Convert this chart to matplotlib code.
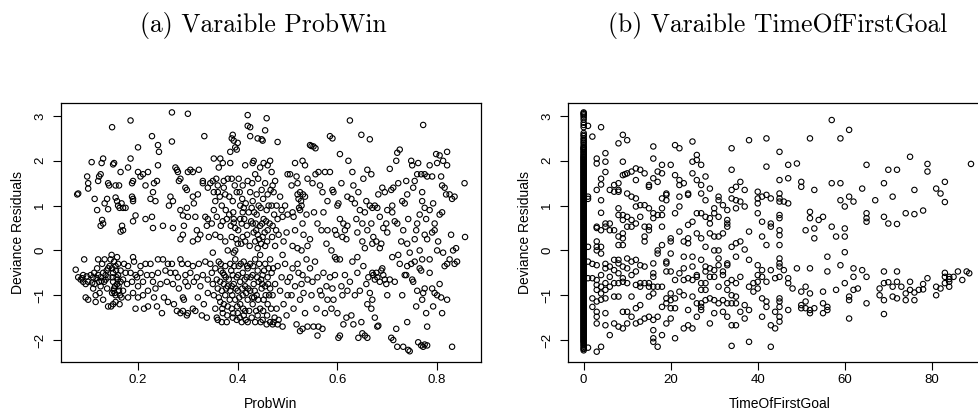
import matplotlib
matplotlib.use("Agg")
import matplotlib.pyplot as plt
import numpy as np

# ---------------- data: panel (a) ProbWin vs deviance residuals ----------------
# upper band (positive residuals), (ProbWin, residual)
probwin_upper = [
    (0.078,1.25),(0.08,1.27),(0.098,1.65),(0.1,1.38),(0.1,1.5),
    (0.107,1.97),(0.113,1.15),(0.118,0.9),(0.12,1.55),(0.122,1.65),(0.125,1.7),(0.127,1.95),(0.13,2.05),
    (0.125,0.55),(0.128,0.68),(0.13,0.6),(0.133,1.05),(0.138,1.15),(0.14,0.92),(0.14,1.5),(0.142,1.45),
    (0.148,2.75),(0.15,1.92),(0.152,1.95),(0.155,1.18),(0.158,1.1),(0.16,1.0),(0.162,1.45),(0.155,1.45),
    (0.165,1.75),(0.163,0.95),(0.167,1.05),(0.17,0.95),(0.165,0.42),(0.168,0.55),(0.17,0.45),(0.175,0.95),
    (0.18,1.85),(0.185,2.05),
    (0.185,2.9),(0.188,1.5),(0.19,1.55),(0.19,1.15),(0.19,1.1),(0.188,1.2),(0.19,0.65),(0.195,0.78),
    (0.2,2.3),(0.2,1.75),(0.205,1.65),(0.21,1.7),(0.215,1.45),(0.22,1.75),(0.215,0.7),
    (0.228,2.55),(0.23,1.3),(0.232,1.5),(0.225,1.15),(0.228,0.75),(0.23,0.5),(0.235,1.1),(0.24,2.35),
    (0.242,2.2),(0.24,1.9),(0.238,1.55),(0.25,0.55),
    (0.268,3.08),(0.268,2.43),(0.262,1.0),(0.265,1.2),(0.27,1.1),(0.275,1.85),(0.278,1.8),(0.28,1.75),
    (0.282,1.55),(0.285,1.6),(0.285,0.9),(0.29,0.78),(0.29,0.35),(0.285,0.25),(0.292,0.55),(0.295,1.4),
    (0.298,1.35),(0.3,3.05),(0.3,1.75),(0.3,0.75),(0.298,0.95),(0.27,0.5),
    (0.305,1.8),(0.31,1.75),(0.31,1.2),(0.312,1.05),(0.315,0.75),(0.318,0.45),(0.32,1.25),(0.322,1.8),
    (0.325,0.35),(0.33,1.55),(0.33,1.5),(0.333,2.55),(0.335,0.75),(0.338,0.55),(0.34,1.4),(0.34,0.7),
    (0.342,0.3),(0.31,0.2),(0.32,0.25),
    (0.345,1.5),(0.35,1.55),(0.352,2.05),(0.355,1.1),(0.358,0.75),(0.36,1.45),(0.362,1.85),(0.365,2.05),
    (0.365,0.3),(0.37,1.95),(0.37,0.65),(0.372,1.55),(0.375,0.2),(0.378,0.7),(0.38,1.6),(0.38,0.0),
    (0.348,0.6),(0.355,0.35),(0.36,1.3),(0.375,1.25),(0.368,1.0),(0.352,0.9),
    (0.385,2.2),(0.388,2.5),(0.39,2.58),(0.392,2.45),(0.395,2.3),(0.398,2.25),(0.4,2.4),(0.385,1.95),
    (0.388,1.6),(0.39,1.1),(0.392,0.7),(0.395,0.5),(0.398,1.3),(0.4,0.15),(0.402,1.6),(0.405,1.0),
    (0.408,0.6),(0.41,1.45),(0.41,0.3),(0.412,0.95),(0.415,1.9),(0.415,0.2),(0.418,0.55),(0.42,1.55),
    (0.42,3.02),(0.42,2.78),(0.388,0.3),(0.383,0.8),(0.395,0.0),(0.405,0.7),(0.41,0.85),(0.392,0.62),
    (0.425,2.75),(0.425,2.55),(0.43,1.95),(0.432,2.0),(0.435,1.7),(0.438,1.25),(0.44,2.5),(0.445,1.85),
    (0.448,2.48),(0.45,2.45),(0.452,1.95),(0.455,2.68),(0.458,2.95),(0.46,1.9),(0.425,1.3),(0.428,0.95),
    (0.43,0.6),(0.432,0.4),(0.435,0.2),(0.438,0.8),(0.44,0.05),(0.442,1.0),(0.445,0.55),(0.448,1.35),
    (0.45,0.3),(0.452,0.7),(0.455,1.5),(0.455,0.1),(0.458,0.9),(0.46,0.45),(0.46,1.25),(0.43,1.1),
    (0.44,0.35),(0.436,0.6),(0.447,0.15),
    (0.465,2.0),(0.468,1.75),(0.47,1.45),(0.472,1.3),(0.475,1.55),(0.478,1.0),(0.48,2.42),(0.48,0.7),
    (0.482,0.35),(0.485,1.2),(0.488,0.9),(0.49,0.75),(0.492,0.2),(0.495,1.0),(0.498,0.4),(0.5,1.7),
    (0.5,0.8),(0.47,0.55),(0.475,0.1),(0.468,1.0),
    (0.505,1.7),(0.508,1.45),(0.51,0.85),(0.512,0.75),(0.515,1.95),(0.518,1.65),(0.52,1.5),(0.52,1.25),
    (0.522,1.15),(0.525,1.3),(0.525,0.9),(0.528,1.0),(0.53,2.0),(0.53,0.6),(0.532,0.35),(0.535,1.9),
    (0.535,1.2),(0.538,0.8),(0.54,1.6),(0.54,0.1),(0.51,0.1),(0.515,0.45),(0.52,0.05),(0.528,0.0),
    (0.545,2.35),(0.548,2.33),(0.552,2.32),(0.556,2.28),(0.55,1.5),(0.553,0.85),(0.556,1.7),(0.56,0.6),
    (0.562,1.75),(0.565,1.45),(0.568,0.45),(0.57,1.3),(0.572,0.85),(0.575,1.75),(0.578,0.15),(0.58,1.1),
    (0.58,0.45),(0.545,0.25),
    (0.585,2.55),(0.59,2.5),(0.585,1.75),(0.59,1.35),(0.592,1.3),(0.595,0.45),(0.598,0.35),(0.6,1.0),
    (0.602,1.05),(0.605,0.7),(0.605,2.15),(0.608,1.5),(0.61,0.3),(0.612,0.6),(0.615,0.45),(0.618,0.25),
    (0.62,1.2),(0.62,0.55),(0.588,0.0),(0.595,-0.15),
    (0.625,2.9),(0.622,2.0),(0.628,1.15),(0.63,1.75),(0.632,1.45),(0.635,1.05),(0.638,0.7),(0.64,0.4),
    (0.642,1.3),(0.645,0.9),(0.648,2.58),(0.65,0.6),(0.652,1.6),(0.655,0.85),(0.658,1.1),(0.66,1.8),
    (0.66,0.45),(0.655,0.05),(0.64,-0.15),(0.65,0.2),
    (0.665,2.48),(0.665,1.0),(0.668,0.6),(0.67,0.95),(0.672,0.3),(0.675,1.0),(0.678,0.2),(0.68,0.95),
    (0.682,1.25),(0.685,0.75),(0.688,0.15),(0.69,1.4),(0.692,0.5),(0.695,1.3),(0.698,0.6),(0.7,0.9),
    (0.7,0.4),(0.67,0.15),(0.685,0.05),(0.668,1.7),
    (0.705,1.82),(0.708,1.35),(0.71,0.85),(0.712,1.4),(0.715,0.65),(0.718,2.0),(0.72,2.18),(0.722,1.5),
    (0.725,2.25),(0.73,1.1),(0.732,0.45),(0.735,1.05),(0.738,1.55),(0.74,0.15),(0.742,0.7),(0.71,1.0),
    (0.72,0.6),(0.74,1.25),(0.728,0.2),
    (0.748,2.0),(0.75,1.9),(0.752,1.4),(0.755,1.55),(0.758,0.45),(0.76,1.7),(0.762,1.95),(0.765,0.8),
    (0.768,1.7),(0.77,1.1),(0.772,2.8),(0.775,1.7),(0.775,0.35),(0.778,0.7),(0.78,1.65),(0.78,0.25),
    (0.755,0.25),(0.765,0.0),(0.76,0.6),(0.77,1.3),(0.775,0.95),
    (0.785,1.9),(0.79,1.65),(0.792,1.05),(0.795,0.6),(0.798,2.15),(0.8,1.95),(0.802,0.2),(0.805,2.12),
    (0.808,1.65),(0.81,1.45),(0.81,0.85),(0.812,2.0),(0.815,1.4),(0.818,1.25),(0.82,2.2),(0.82,1.9),
    (0.795,0.45),(0.8,0.0),(0.785,0.9),(0.79,0.4),(0.805,0.8),(0.812,-0.05),
    (0.825,1.25),(0.828,0.35),(0.83,1.15),(0.835,1.2),(0.838,0.05),(0.84,-0.25),(0.855,1.5),(0.856,0.3),
    (0.832,0.0),
]
# extra points in the crowded middle of the upper band
probwin_upper_dense = [
    (0.372,1.4),(0.376,0.9),(0.383,1.2),(0.386,0.55),(0.391,0.85),(0.394,1.45),(0.397,0.25),(0.401,0.45),
    (0.404,1.3),(0.407,0.15),(0.409,1.15),(0.413,0.7),(0.416,1.05),(0.419,0.35),(0.422,0.85),(0.424,0.1),
    (0.427,0.65),(0.429,1.5),(0.433,0.85),(0.437,0.45),(0.441,1.6),(0.443,0.25),(0.446,0.95),(0.449,0.6),
    (0.451,1.15),(0.454,0.4),(0.457,0.65),(0.459,0.2),(0.462,1.0),(0.464,0.6),(0.466,1.35),(0.469,0.3),
    (0.473,0.8),(0.477,0.45),(0.352,1.3),(0.357,1.6),(0.366,0.55),(0.364,1.2),(0.527,1.1),(0.523,0.95),
    (0.531,1.25),
]
# lower band (negative residuals), (ProbWin, residual)
probwin_lower = [
    (0.075,-0.43),(0.08,-0.6),(0.085,-0.65),(0.09,-0.7),(0.09,-0.55),(0.095,-0.75),(0.092,-0.2),
    (0.095,-1.05),(0.1,-1.1),(0.1,-0.7),(0.088,-0.62),(0.097,-0.58),
    (0.105,-0.55),(0.11,-0.6),(0.11,-0.85),(0.113,-0.75),(0.115,-1.0),(0.115,-1.15),(0.118,-0.4),
    (0.12,-0.2),(0.12,-0.55),(0.122,-0.7),(0.125,-0.8),(0.125,-0.6),(0.128,-0.3),(0.13,-0.5),(0.13,-1.1),
    (0.133,-0.2),(0.135,-0.65),(0.135,-0.55),(0.138,-0.85),(0.14,-1.25),(0.14,-0.4),(0.14,-0.6),
    (0.143,-0.35),(0.108,-0.72),(0.117,-0.62),(0.127,-0.68),
    (0.145,-0.2),(0.147,-0.1),(0.148,-0.4),(0.15,-0.5),(0.15,-0.7),(0.152,-0.85),(0.153,-0.95),
    (0.155,-1.0),(0.155,-1.15),(0.157,-0.6),(0.158,-0.75),(0.16,-0.3),(0.16,-0.55),(0.162,-0.9),
    (0.163,-1.2),(0.165,-0.7),(0.165,-0.45),(0.167,-1.05),(0.17,-0.65),(0.17,-0.9),(0.172,-0.3),
    (0.175,-0.5),(0.178,-0.75),(0.18,-1.05),(0.18,-0.35),(0.148,-0.95),(0.146,-1.25),(0.15,-1.2),
    (0.152,-0.25),(0.155,-0.35),(0.158,-0.15),(0.154,-0.8),(0.159,-0.65),
    (0.185,-0.5),(0.19,-0.15),(0.19,-0.95),(0.192,-0.25),(0.195,-0.55),(0.195,-1.3),(0.2,-0.8),
    (0.2,-1.05),(0.205,-0.5),(0.205,-0.35),(0.21,-0.7),(0.21,-1.0),(0.212,-1.3),(0.215,-0.3),
    (0.218,-0.55),(0.22,-0.9),(0.22,-1.25),(0.188,-0.7),(0.198,-0.6),
    (0.225,-0.3),(0.228,-0.55),(0.23,-0.7),(0.232,-1.05),(0.235,-0.85),(0.238,-1.25),(0.24,-0.2),
    (0.24,-0.5),(0.245,-0.75),(0.248,-1.4),(0.25,-0.2),(0.252,-1.05),(0.255,-0.45),(0.258,-0.7),
    (0.26,-1.15),(0.26,-0.3),
    (0.265,-0.5),(0.268,-0.3),(0.27,-0.75),(0.272,-1.2),(0.275,-0.5),(0.278,-1.35),(0.28,-0.6),
    (0.282,-0.85),(0.285,-1.4),(0.288,-0.3),(0.29,-1.05),(0.292,-1.1),(0.295,-0.55),(0.295,-0.7),
    (0.298,-1.45),(0.3,-0.3),(0.3,-0.8),(0.285,-0.2),
    (0.305,-0.5),(0.31,-0.35),(0.312,-0.7),(0.315,-1.35),(0.318,-0.6),(0.32,-1.05),(0.322,-0.3),
    (0.325,-0.8),(0.328,-1.45),(0.33,-0.55),(0.332,-1.2),(0.335,-0.25),(0.338,-1.5),(0.34,-0.65),
    (0.34,-0.95),(0.31,-1.3),
    (0.345,-0.3),(0.348,-0.5),(0.35,-0.75),(0.352,-1.0),(0.355,-0.4),(0.355,-1.3),(0.358,-0.65),
    (0.36,-0.85),(0.36,-1.55),(0.362,-0.25),(0.365,-0.7),(0.365,-1.15),(0.368,-0.9),(0.37,-0.5),
    (0.37,-1.4),(0.372,-0.75),(0.375,-1.0),(0.375,-0.35),(0.378,-1.6),(0.38,-0.8),(0.38,-1.25),
    (0.35,-0.05),(0.358,-1.5),(0.368,-1.6),(0.372,-1.2),(0.376,-0.6),(0.362,-1.05),(0.366,-0.45),
    (0.385,-0.3),(0.385,-0.9),(0.388,-1.3),(0.39,-0.55),(0.39,-1.5),(0.392,-0.75),(0.395,-1.1),
    (0.395,-0.2),(0.398,-0.6),(0.4,-1.4),(0.4,-0.9),(0.402,-0.35),(0.405,-1.2),(0.405,-0.7),
    (0.408,-1.6),(0.41,-0.5),(0.41,-1.0),(0.412,-0.25),(0.415,-0.8),(0.415,-1.35),(0.418,-0.6),
    (0.42,-1.1),(0.42,-0.4),(0.42,-1.6),(0.398,-1.55),(0.392,-0.05),(0.412,-1.45),(0.388,-0.8),
    (0.403,-1.05),(0.417,-0.95),
    (0.425,-0.3),(0.425,-0.9),(0.428,-1.5),(0.43,-0.55),(0.43,-1.2),(0.432,-0.75),(0.435,-1.6),
    (0.435,-0.2),(0.438,-1.0),(0.44,-0.45),(0.44,-1.45),(0.442,-0.7),(0.445,-1.3),(0.445,-0.1),
    (0.448,-0.85),(0.45,-0.55),(0.45,-1.55),(0.452,-1.1),(0.455,-0.3),(0.455,-0.8),(0.458,-1.65),
    (0.46,-0.6),(0.46,-1.2),(0.462,-0.4),(0.465,-1.6),(0.465,-0.85),(0.433,-1.05),(0.447,-0.65),
    (0.465,-0.2),(0.468,-0.5),(0.47,-1.0),(0.472,-1.6),(0.475,-0.75),(0.478,-1.3),(0.48,-0.35),
    (0.482,-1.55),(0.485,-0.9),(0.488,-0.6),(0.49,-1.7),(0.492,-1.2),(0.495,-0.3),(0.498,-1.45),
    (0.5,-0.7),(0.5,-1.0),(0.49,-0.1),
    (0.505,-0.6),(0.508,-1.0),(0.51,-0.4),(0.512,-1.3),(0.515,-0.8),(0.518,-1.65),(0.52,-0.3),
    (0.522,-0.5),(0.525,-1.1),(0.528,-0.75),(0.53,-1.75),(0.53,-0.55),(0.532,-0.95),(0.535,-1.4),
    (0.538,-0.2),(0.54,-0.65),(0.54,-1.7),(0.525,-1.8),
    (0.545,-0.4),(0.548,-1.0),(0.55,-0.7),(0.552,-1.7),(0.555,-0.25),(0.558,-1.3),(0.56,-0.6),
    (0.562,-1.7),(0.565,-0.9),(0.568,-1.0),(0.57,-1.75),(0.572,-0.5),(0.575,-1.4),(0.578,-0.8),
    (0.58,-1.1),(0.56,-1.9),
    (0.585,-0.6),(0.588,-1.3),(0.59,-0.85),(0.592,-1.1),(0.595,-0.55),(0.598,-0.2),(0.6,-1.4),
    (0.602,-1.95),(0.605,-0.2),(0.605,-1.9),(0.608,-0.8),(0.61,-1.0),(0.612,-1.65),(0.615,-0.55),
    (0.618,-1.5),(0.62,-0.9),
    (0.625,-0.7),(0.628,-1.45),(0.63,-0.25),(0.632,-1.65),(0.635,-1.0),(0.64,-0.5),(0.642,-1.95),
    (0.645,-0.9),(0.648,-1.6),(0.65,-1.85),(0.652,-0.35),(0.655,-1.9),(0.658,-0.75),(0.66,-1.2),
    (0.66,-1.95),(0.662,-0.6),
    (0.665,-0.95),(0.668,-1.3),(0.67,-0.5),(0.672,-0.55),(0.675,-0.65),(0.678,-0.5),(0.68,-1.7),
    (0.68,-0.6),(0.682,-1.68),(0.685,-0.7),(0.688,-0.45),(0.69,-0.4),(0.692,-0.55),(0.695,-0.65),
    (0.698,-0.75),(0.7,-1.0),(0.67,-1.1),(0.675,-1.5),
    (0.705,-0.65),(0.708,-1.95),(0.71,-0.15),(0.712,-2.0),(0.715,-0.7),(0.718,-1.75),(0.72,-2.15),
    (0.722,-0.1),(0.725,-0.3),(0.73,-1.0),(0.732,-2.15),(0.735,-0.55),(0.738,-0.55),(0.74,-1.6),
    (0.742,-2.22),(0.745,-2.25),(0.745,-0.05),(0.74,-0.35),
    (0.748,-0.3),(0.75,-0.65),(0.752,-0.7),(0.755,-0.25),(0.758,-1.25),(0.76,-0.9),(0.762,-2.05),
    (0.765,-0.4),(0.768,-0.45),(0.77,-1.1),(0.772,-2.15),(0.775,-0.85),(0.775,-2.1),(0.778,-1.4),
    (0.78,-1.7),(0.78,-2.12),(0.772,-0.95),(0.77,-0.2),(0.768,-2.12),
    (0.785,-0.2),(0.79,-0.85),(0.792,-1.25),(0.795,-0.95),(0.8,-1.0),(0.805,-0.75),(0.808,-1.05),
    (0.81,-1.4),(0.815,-0.35),(0.82,-0.3),(0.82,-1.1),(0.785,-0.5),
    (0.83,-2.15),(0.825,-0.2),(0.835,-0.3),
]
# extra points in the crowded parts of the lower band
probwin_lower_dense = [
    (0.366,-0.3),(0.369,-1.3),(0.373,-0.55),(0.377,-0.85),(0.379,-1.45),(0.382,-0.65),(0.384,-1.1),
    (0.387,-0.45),(0.389,-1.0),(0.391,-1.4),(0.393,-0.35),(0.396,-0.85),(0.399,-1.25),(0.401,-0.55),
    (0.404,-1.5),(0.406,-0.3),(0.409,-0.85),(0.411,-1.3),(0.414,-0.65),(0.416,-1.55),(0.419,-0.35),
    (0.421,-0.85),(0.423,-1.35),(0.426,-0.6),(0.429,-1.05),(0.431,-0.35),(0.434,-0.9),(0.437,-1.35),
    (0.439,-0.6),(0.441,-1.1),(0.443,-0.3),(0.446,-1.6),(0.449,-0.75),(0.451,-1.35),(0.453,-0.45),
    (0.456,-1.0),(0.459,-1.45),(0.461,-0.75),(0.463,-1.0),(0.467,-1.3),(0.471,-0.4),(0.474,-1.5),
    (0.149,-0.6),(0.151,-0.9),(0.156,-0.45),(0.161,-0.8),(0.164,-1.0),(0.112,-0.5),(0.123,-0.95),
    (0.132,-0.7),(0.137,-0.45),(0.3,-1.4),(0.29,-1.35),(0.48,-1.65),(0.47,-1.65),
]

# ---------------- data: panel (b) TimeOfFirstGoal vs deviance residuals ----------------
# residuals of observations with TimeOfFirstGoal = 0 (dense column)
zero_goal_resid = [
    3.08,3.06,3.04,3.01,2.97,2.92,2.85,2.8,2.75,2.62,2.58,2.55,2.5,2.47,2.43,2.4,2.36,2.32,2.28,2.25,
    2.2,2.16,2.12,2.08,2.05,2.02,1.98,1.95,1.92,1.88,1.85,1.82,1.78,1.75,1.72,1.68,1.65,1.62,1.58,1.55,
    1.52,1.48,1.45,1.42,1.38,1.35,1.32,1.28,1.25,1.22,1.18,1.15,1.12,1.08,1.05,1.02,0.98,0.95,0.92,0.88,
    0.85,0.82,0.78,0.75,0.72,0.68,0.65,0.62,0.58,0.55,0.52,0.48,0.45,0.42,0.38,0.35,0.32,0.28,0.25,0.22,
    0.18,0.15,0.12,0.08,0.05,0.02,-0.02,-0.05,-0.08,-0.12,-0.15,-0.18,-0.22,-0.25,-0.28,-0.32,-0.35,
    -0.38,-0.42,-0.45,-0.48,-0.52,-0.55,-0.58,-0.62,-0.65,-0.68,-0.72,-0.75,-0.78,-0.82,-0.85,-0.88,
    -0.92,-0.95,-0.98,-1.02,-1.05,-1.08,-1.12,-1.15,-1.18,-1.22,-1.25,-1.28,-1.32,-1.35,-1.38,-1.42,
    -1.45,-1.48,-1.52,-1.55,-1.58,-1.62,-1.65,-1.68,-1.72,-1.75,-1.78,-1.82,-1.85,-1.88,-1.92,-1.95,
    -1.98,-2.02,-2.05,-2.1,-2.15,-2.2,-2.23,
]
zero_goal_resid_more = [
    2.3,2.27,2.23,2.19,2.14,2.1,2.07,2.03,2.0,1.97,1.93,1.9,1.87,1.83,1.8,1.77,1.73,1.7,1.67,1.63,
    1.6,1.57,1.53,1.5,1.47,1.43,1.4,1.37,1.33,1.3,1.27,1.23,1.2,1.17,1.13,1.1,1.07,1.03,1.0,0.97,
    0.93,0.9,0.87,0.83,0.8,0.77,0.73,0.7,0.67,0.63,0.6,0.57,0.53,0.5,0.47,0.43,0.4,0.37,0.33,0.3,
    0.27,0.23,0.2,0.17,0.13,0.1,0.07,0.03,0.0,-0.03,-0.07,-0.1,-0.13,-0.17,-0.2,-0.23,-0.27,-0.3,
    -0.33,-0.37,-0.4,-0.43,-0.47,-0.5,-0.53,-0.57,-0.6,-0.63,-0.67,-0.7,-0.73,-0.77,-0.8,-0.83,
    -0.87,-0.9,-0.93,-0.97,-1.0,-1.03,-1.07,-1.1,-1.13,-1.17,-1.2,-1.23,-1.27,-1.3,-1.33,-1.37,
    -1.4,-1.43,-1.47,-1.5,-1.53,-1.57,-1.6,-1.63,-1.67,-1.7,-1.73,-1.77,-1.8,-1.83,-1.87,-1.9,
    -1.93,-1.97,-2.0,-2.03,-2.07,-2.12,-2.18,
]
# (minute, residual) for games with an early first goal (1-20 min)
goal_early = [
    (1,2.78),(1,1.2),(1,1.15),(1,0.08),(1,-0.25),(1,-0.62),(1,-2.17),
    (2,2.54),(3,2.05),(3,1.94),(3,1.35),(4,2.75),(5,2.17),(5,1.98),(5,1.75),(4,1.6),(4,1.47),(4,1.12),
    (4,0.84),(3,0.53),(3,0.5),(5,0.6),(5,0.53),(4,0.45),(3,0.2),(3,0.08),(3,0.0),(4,0.08),(4,-0.07),
    (2,-0.3),(3,-0.33),(5,-0.3),(5,-0.4),(4,-0.55),(2,-0.62),(3,-0.66),(3,-0.77),(3,-0.88),(5,-0.73),
    (5,-0.88),(5,-1.07),(4,-0.81),(4,-0.96),(2,-1.07),(3,-1.14),(4,-1.1),(2,-1.26),(3,-1.37),(3,-1.48),
    (5,-1.4),(3,-1.63),(5,-1.67),(3,-2.26),(4,-2.15),
    (6,-1.89),(6,1.35),(6,0.6),(6,0.45),(6,-0.36),(6,-0.59),(6,-0.81),(7,1.46),(7,1.31),(7,0.45),
    (7,-0.21),(7,-0.44),(7,-0.73),(7,-1.03),(7,-1.63),(8,2.39),(8,1.5),(8,1.35),(8,1.31),(8,0.94),
    (8,0.79),(8,0.31),(8,0.12),(8,-0.21),(8,-0.29),(8,-0.51),(8,-0.73),(8,-1.03),(8,-1.7),(9,2.58),
    (9,1.98),(9,1.68),(9,0.79),(9,0.68),(9,0.38),(9,0.27),(9,0.12),(9,-0.36),(9,-0.62),(9,-0.7),
    (9,-1.37),(9,-1.74),(10,2.46),(10,1.72),(10,1.27),(10,0.75),(10,0.53),(10,-0.18),(10,-0.4),
    (10,-0.73),(10,-1.37),(10,-1.63),(9.5,1.7),
    (11,1.76),(11,1.2),(11,0.68),(11,0.53),(11,-0.25),(11,-0.55),(11,-1.03),(11,-1.48),(12,1.83),
    (12,1.57),(12,1.16),(12,0.98),(12,0.6),(12,-0.21),(12,-0.47),(12,-0.77),(12,-1.29),(12,-1.63),
    (13,1.8),(13,1.01),(13,0.75),(13,-0.33),(13,-0.73),(13,-0.81),(13,-1.22),(13,-1.59),(14,1.72),
    (14,1.01),(14,0.53),(14,0.31),(14,0.2),(14,-0.36),(14,-0.73),(14,-1.52),(15,1.46),(15,1.42),
    (15,0.94),(15,0.53),(15,0.45),(15,-0.73),(15,-0.81),(15,-1.03),(15,-1.48),
    (16,2.32),(16,2.05),(16,1.61),(16,0.83),(16,0.72),(16,-0.29),(16,-0.51),(16,-0.59),(16,-0.81),
    (16,-0.96),(16,-1.55),(16,-1.78),(16,-1.96),(16,-2.04),(17,1.76),(17,1.53),(17,0.79),(17,0.0),
    (17,-0.07),(17,-0.81),(17,-1.48),(17,-2.15),(18,1.91),(18,1.72),(18,1.16),(18,0.94),(18,0.79),
    (18,0.53),(18,0.12),(18,-0.81),(18,-1.26),(18,-1.89),(19,1.27),(19,1.24),(19,1.12),(19,-0.25),
    (19,-0.29),(19,-0.47),(19,-1.07),(19,-1.18),(19,-1.63),(20,1.91),(20,0.27),(20,0.2),(20,-0.07),
    (20,-0.47),(20,-0.96),(20,-1.11),(20,-1.29),(20,-1.52),
]
# (minute, residual) for first goals between 21 and 45 min
goal_middle = [
    (21,2.35),(21,1.68),(21,0.83),(21,-0.66),(21,-1.07),(21,-1.29),(21,-1.96),(22,2.28),(22,1.57),
    (22,1.46),(22,1.2),(22,0.98),(22,0.42),(22,-0.51),(22,-0.92),(23,1.5),(23,0.2),(23,-0.14),
    (23,-0.4),(23,-0.66),(23,-1.0),(23,-1.74),(24,1.27),(24,1.24),(24,0.57),(24,0.27),(24,0.16),
    (24,-0.62),(24,-1.33),(24,-1.67),(25,2.43),(25,1.98),(25,1.72),(25,0.64),(25,-0.14),(25,-0.36),
    (25,-0.66),(25,-1.03),(25,-1.74),
    (26,2.13),(26,2.02),(26,1.57),(26,0.83),(26,0.38),(26,-0.55),(26,-0.59),(26,-1.18),(26,-1.48),
    (27,1.91),(27,1.46),(27,1.27),(27,0.83),(27,0.27),(27,-0.21),(27,-0.73),(27,-0.88),(27,-1.18),
    (27,-1.26),(27,-1.33),(28,1.65),(28,1.12),(28,0.75),(28,0.08),(28,-0.36),(28,-0.47),(28,-0.73),
    (28,-0.88),(28,-1.11),(29,1.38),(29,0.72),(29,0.6),(29,0.38),(29,-0.4),(29,-0.59),(29,-1.07),
    (29,-1.63),(30,0.94),(30,0.83),(30,0.31),(30,0.0),(30,-0.44),(30,-0.59),(30,-1.11),(30,-1.4),
    (31,1.2),(31,1.12),(31,0.75),(31,0.31),(31,0.0),(31,-0.18),(31,-0.33),(31,-0.81),(31,-1.18),
    (32,1.01),(32,0.38),(32,-0.47),(32,-0.55),(32,-1.11),(32,-1.37),(33,0.9),(33,0.68),(33,0.6),
    (33,0.53),(33,-0.29),(33,-0.33),(33,-0.73),(33,-0.88),(33,-1.18),(33,-1.48),(34,2.28),(34,1.8),
    (34,1.35),(34,1.16),(34,0.08),(34,-0.66),(34,-1.0),(34,-1.18),(34,-1.67),(34,-2.13),(35,1.42),
    (35,1.12),(35,0.94),(35,0.16),(35,-0.14),(35,-0.73),(35,-1.03),(35,-1.18),(35,-1.67),
    (36,1.53),(36,1.09),(36,0.2),(36,-0.59),(36,-1.37),(37,1.35),(37,0.98),(37,0.02),(37,-1.22),
    (37,-1.52),(38,2.46),(38,0.42),(38,-0.21),(38,-0.81),(38,-1.33),(38,-2.04),(39,-0.73),(39,-0.92),
    (40,1.31),(40,1.16),(40,1.05),(40,0.83),(40,-0.33),(40,-0.55),(40,-0.7),(40,-0.85),
    (41,1.2),(41,0.64),(41,0.31),(41,-0.44),(41,-0.59),(41,-1.07),(41,-1.48),(42,2.5),(42,1.87),
    (42,1.24),(42,0.12),(42,-0.7),(42,-1.14),(42,-1.26),(43,1.16),(43,0.6),(43,0.53),(43,-0.44),
    (43,-1.67),(43,-2.15),(44,-0.62),(44,-1.37),(44,-1.74),(45,2.2),(45,1.57),(45,1.27),(45,1.16),
    (45,1.09),(45,0.79),(45,0.72),(45,0.45),(45,0.34),(45,0.12),(45,-0.18),(45,-0.29),(45,-0.36),
    (45,-0.59),(45,-1.07),(45,-1.14),(45,-1.26),(45,-1.48),(45,-1.59),
]
# (minute, residual) for late first goals (46-90 min)
goal_late = [
    (46,1.09),(46,-0.44),(47,1.91),(47,1.61),(47,1.05),(47,-0.62),(47,-0.73),(47,-1.33),(48,-0.85),
    (49,1.94),(49,-0.4),(50,1.53),(50,1.42),(50,-0.92),(50,-1.22),(50,-1.29),
    (51,0.45),(51,-0.81),(51,-1.14),(51,-1.29),(52,2.5),(52,0.86),(52,0.72),(52,-0.4),(52,-0.96),
    (52,-1.33),(52,-1.4),(53,1.35),(53,0.49),(53,0.27),(53,-1.29),(54,0.68),(55,0.75),(55,-0.92),
    (55,-1.18),(55,-1.4),
    (56,-0.14),(56,-0.47),(56,-1.26),(56,-1.33),(57,2.91),(57,1.5),(57,0.53),(58,0.31),(58,-0.88),
    (59,2.5),(59,1.5),(59,1.12),(59,-0.33),(60,0.98),(60,0.49),(60,0.31),(60,-0.04),(60,-0.73),
    (61,2.69),(61,1.2),(61,-1.03),(61,-1.11),(61,-1.52),(62,1.09),(62,-0.4),(62,-0.59),(62,-0.88),
    (63,-0.85),(64,1.38),(64,-0.44),(65,1.91),(65,0.83),(65,0.72),(65,0.64),(65,-0.59),(65,-1.18),
    (67,1.12),(68,-0.85),(68,-1.0),(69,1.5),(69,0.75),(69,-0.47),(69,-0.73),(69,-1.11),(69,-1.42),
    (70,1.8),(70,0.6),(70,-0.71),
    (71,1.2),(71,-0.81),(71,-1.03),(72,1.8),(72,0.59),(72,-0.47),(72,-0.7),(72,-1.07),(73,-0.81),
    (74,0.83),(74,-0.96),(74,-1.11),(75,2.09),(75,-0.7),(75,-0.88),(76,1.35),(76,0.81),(76,-0.94),
    (76,-1.11),(77,-0.88),(78,0.89),(78,-0.75),(78,-0.87),(79,1.93),(79,1.76),(79,-0.62),
    (81,1.38),(81,-0.81),(81,-1.0),(82,1.27),(82,-0.85),(83,1.53),(83,1.08),(83,-0.5),(83,-0.59),
    (83,-0.73),(84,-0.59),(84,-0.7),(84,-0.81),(84,-0.64),(85,-0.59),(86,-0.47),(87,-0.66),
    (88,-0.47),(88.6,-0.51),(89,1.93),
]

panel_titles = ["(a) Varaible ProbWin", "(b) Varaible TimeOfFirstGoal"]
x_labels = ["ProbWin", "TimeOfFirstGoal"]
y_label = "Deviance Residuals"
probwin_ticks = [0.2, 0.4, 0.6, 0.8]
tofg_ticks = [0, 20, 40, 60, 80]
resid_ticks = [-2, -1, 0, 1, 2, 3]

# ---------------- drawing ----------------
W, H = 979, 413
fig = plt.figure(figsize=(W / 100, H / 100), dpi=100)
sans = ["Liberation Sans", "DejaVu Sans"]

def fx(px):
    return px / W

def fy(py):
    return 1 - py / H

ax1 = fig.add_axes([fx(61), fy(362), fx(481) - fx(61), fy(103) - fy(362)])
ax2 = fig.add_axes([fx(568), fy(362), fx(991) - fx(568), fy(103) - fy(362)])

sc_kw = dict(s=15, facecolors="none", edgecolors="black", linewidths=0.8)

pa = probwin_upper + probwin_upper_dense + probwin_lower + probwin_lower_dense
ax1.scatter([p[0] for p in pa], [p[1] for p in pa], **sc_kw)

pb = goal_early + goal_middle + goal_late
zcol = zero_goal_resid + zero_goal_resid_more
ax2.scatter([0] * len(zcol), zcol, **sc_kw)
ax2.scatter([p[0] for p in pb], [p[1] for p in pb], **sc_kw)

def fmt_num(v):
    s = ("%g" % v)
    return s.replace("-", "\u2212")

for ax, xt, xl, xlim in [(ax1, probwin_ticks, x_labels[0], (0.0455, 0.888)),
                         (ax2, tofg_ticks, x_labels[1], (-3.6, 93.6))]:
    ax.set_xlim(*xlim)
    ax.set_ylim(-2.49, 3.29)
    ax.set_xticks(xt)
    ax.set_xticklabels([fmt_num(v) for v in xt], fontfamily=sans, fontsize=9.5)
    ax.set_yticks(resid_ticks)
    ax.set_yticklabels([fmt_num(v) for v in resid_ticks], fontfamily=sans, fontsize=9.5,
                       rotation=90, va="center")
    ax.tick_params(axis="both", direction="out", length=5.5, width=0.8, color="black")
    ax.tick_params(axis="x", pad=3)
    ax.tick_params(axis="y", pad=5)
    for sp in ax.spines.values():
        sp.set_linewidth(0.9)
        sp.set_color("black")
    ax.set_xlabel(xl, fontfamily=sans, fontsize=10, labelpad=8)
    ax.set_ylabel(y_label, fontfamily=sans, fontsize=10, labelpad=7)

fig.text(fx(263), fy(32), panel_titles[0], fontfamily=["cmr10", "DejaVu Serif"],
         fontsize=18.5, ha="center", va="baseline")
fig.text(fx(778), fy(32), panel_titles[1], fontfamily=["cmr10", "DejaVu Serif"],
         fontsize=18.5, ha="center", va="baseline")

fig.savefig("out.png", dpi=100)
